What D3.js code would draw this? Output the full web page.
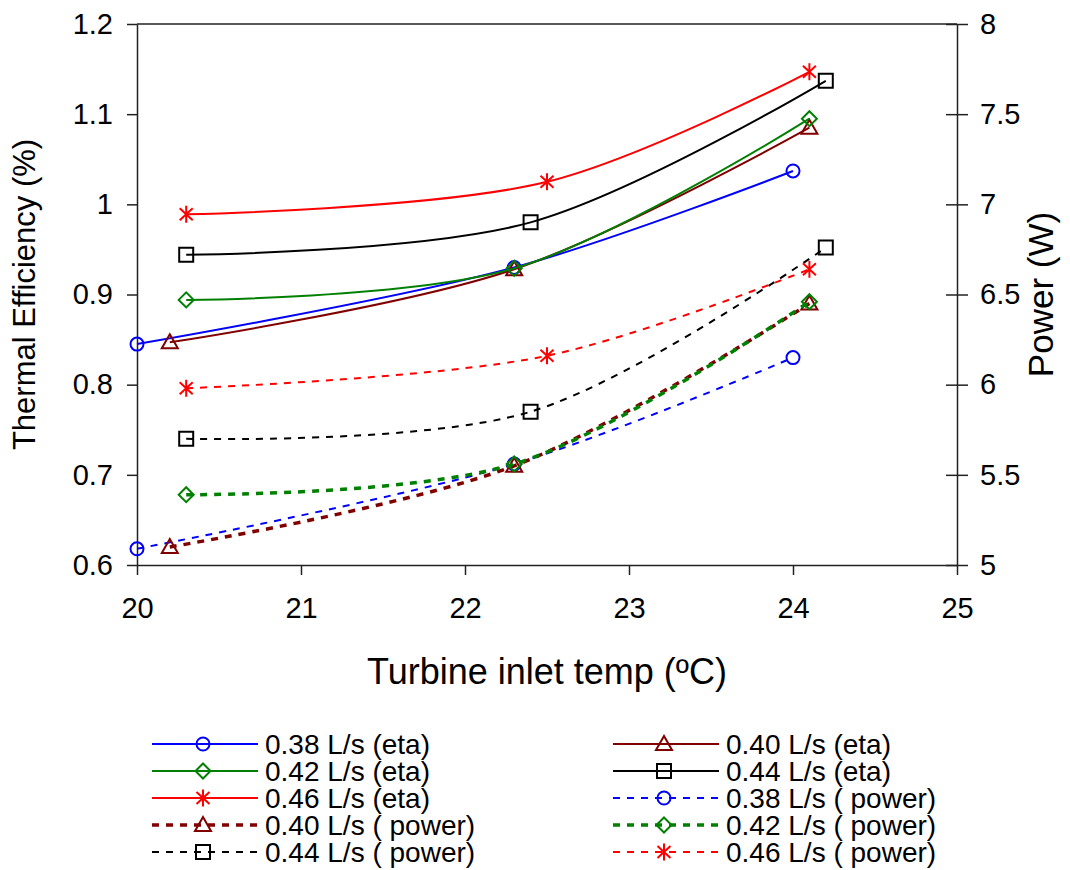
<!DOCTYPE html>
<html>
<head>
<meta charset="utf-8">
<script src="https://cdn.jsdelivr.net/npm/d3@7"></script>
<style>
body{margin:0;background:#fff;}
text{font-family:"Liberation Sans",Arial,sans-serif;fill:#000;}
</style>
</head>
<body>
<script>
// inlet temperatures per flow rate
var temp038 = [20.0, 22.3, 24.0];
var temp040 = [20.2, 22.3, 24.1];
var temp042 = [20.3, 22.3, 24.1];
var temp044 = [20.3, 22.4, 24.2];
var temp046 = [20.3, 22.5, 24.1];

// thermal efficiency (%)
var eta038 = [0.845, 0.930, 1.037];
var eta040 = [0.847, 0.928, 1.085];
var eta042 = [0.894, 0.929, 1.095];
var eta044 = [0.944, 0.980, 1.137];
var eta046 = [0.989, 1.025, 1.147];

// power (W)
var power038 = [5.09, 5.56, 6.15];
var power040 = [5.10, 5.55, 6.45];
var power042 = [5.39, 5.56, 6.46];
var power044 = [5.70, 5.85, 6.76];
var power046 = [5.98, 6.16, 6.64];

var xTicks = [20, 21, 22, 23, 24, 25];
var etaTicks = [0.6, 0.7, 0.8, 0.9, 1.0, 1.1, 1.2];
var powerTicks = [5, 5.5, 6, 6.5, 7, 7.5, 8];

var legendLabels = [
  "0.38 L/s (eta)", "0.40 L/s (eta)", "0.42 L/s (eta)", "0.44 L/s (eta)", "0.46 L/s (eta)",
  "0.38 L/s ( power)", "0.40 L/s ( power)", "0.42 L/s ( power)", "0.44 L/s ( power)", "0.46 L/s ( power)"
];

var width = 1070, height = 870,
    plotLeft = 137, plotRight = 957, plotTop = 24, plotBottom = 565;

var x = d3.scaleLinear().domain([20, 25]).range([plotLeft, plotRight]);
var yEta = d3.scaleLinear().domain([0.6, 1.2]).range([plotBottom, plotTop]);
var yPow = d3.scaleLinear().domain([5, 8]).range([plotBottom, plotTop]);

var colors = ["#0000ff", "#800000", "#008000", "#000000", "#ff0000"];
var markers = ["circle", "triangle", "diamond", "square", "star"];

var series = [
  {x: temp038, y: eta038, axis: yEta},
  {x: temp040, y: eta040, axis: yEta},
  {x: temp042, y: eta042, axis: yEta},
  {x: temp044, y: eta044, axis: yEta},
  {x: temp046, y: eta046, axis: yEta},
  {x: temp038, y: power038, axis: yPow},
  {x: temp040, y: power040, axis: yPow},
  {x: temp042, y: power042, axis: yPow},
  {x: temp044, y: power044, axis: yPow},
  {x: temp046, y: power046, axis: yPow}
];
series.forEach(function(s, i){
  s.label = legendLabels[i];
  s.color = colors[i % 5];
  s.marker = markers[i % 5];
  s.dashed = i >= 5;
  s.thick = (i == 6 || i == 7);
});

function markerPath(type){
  switch(type){
    case "circle": return "M6.5,0A6.5,6.5 0 1,1 -6.5,0A6.5,6.5 0 1,1 6.5,0Z";
    case "triangle": return "M0,-8L8,6L-8,6Z";
    case "diamond": return "M0,-7.5L7.5,0L0,7.5L-7.5,0Z";
    case "square": return "M-7,-7H7V7H-7Z";
    case "star": return "M0,-8.5V8.5M-6.5,-6L6.5,6M-6.5,6L6.5,-6";
  }
}

var fmt = function(d){ return String(+d.toFixed(1)); };

var svg = d3.select("body")
  .append("svg")
  .attr("width", width)
  .attr("height", height);

svg.append("rect").attr("width", width).attr("height", height).attr("fill", "#fff");

// Axes
svg.append("g")
  .attr("transform", "translate(0," + plotBottom + ")")
  .call(d3.axisBottom(x).tickValues(xTicks).tickSize(10).tickSizeOuter(0).tickPadding(22).tickFormat(fmt));

svg.append("g")
  .attr("transform", "translate(" + plotLeft + ",0)")
  .call(d3.axisLeft(yEta).tickValues(etaTicks).tickSize(10).tickSizeOuter(0).tickPadding(14).tickFormat(fmt));

var yAxisR = svg.append("g")
  .attr("transform", "translate(" + plotRight + ",0)")
  .call(d3.axisRight(yPow).tickValues(powerTicks).tickSize(11).tickSizeOuter(0).tickPadding(12).tickFormat(fmt));
yAxisR.selectAll(".tick line").attr("x1", -11).attr("x2", 11);

svg.selectAll(".domain, .tick line").attr("stroke", "#222").attr("stroke-width", 1.5);
svg.selectAll(".tick text")
  .attr("font-size", 29)
  .attr("font-family", "Liberation Sans, Arial, sans-serif")
  .attr("fill", "#000");

// top frame line
svg.append("line")
  .attr("x1", x(20)).attr("x2", x(25))
  .attr("y1", yEta(1.2)).attr("y2", yEta(1.2))
  .attr("stroke", "#222").attr("stroke-width", 1.5);

// Axis titles
svg.append("text")
  .attr("x", (plotLeft + plotRight) / 2).attr("y", 684)
  .attr("text-anchor", "middle")
  .attr("font-size", 36)
  .text("Turbine inlet temp (ºC)");

svg.append("text")
  .attr("transform", "translate(35," + (plotTop + plotBottom) / 2 + ") rotate(-90)")
  .attr("text-anchor", "middle")
  .attr("font-size", 31)
  .text("Thermal Efficiency (%)");

svg.append("text")
  .attr("transform", "translate(1053," + (plotTop + plotBottom) / 2 + ") rotate(-90)")
  .attr("text-anchor", "middle")
  .attr("font-size", 35)
  .text("Power (W)");

// Lines
var line = d3.line().curve(d3.curveCatmullRom.alpha(0.5));

function styleLine(sel, s){
  sel.attr("fill", "none")
    .attr("stroke", s.color)
    .attr("stroke-width", s.thick ? 3.5 : 2)
    .attr("stroke-dasharray", s.dashed ? "7,7" : null);
}

series.forEach(function(s){
  var pts = s.x.map(function(t, j){ return [x(t), s.axis(s.y[j])]; });
  svg.append("path")
    .attr("d", line(pts))
    .call(styleLine, s);

  svg.append("g").selectAll("path")
    .data(pts)
    .enter()
    .append("path")
    .attr("d", markerPath(s.marker))
    .attr("transform", function(p){ return "translate(" + p[0] + "," + p[1] + ")"; })
    .attr("fill", "none")
    .attr("stroke", s.color)
    .attr("stroke-width", 2);
});

// Legend
var legend = svg.append("g");
series.forEach(function(s, i){
  var col = i % 2, row = Math.floor(i / 2);
  var x0 = col ? 613 : 152, cy = 744 + row * 27;
  var g = legend.append("g").attr("transform", "translate(" + x0 + "," + cy + ")");
  g.append("line")
    .attr("x1", 0).attr("x2", 106)
    .call(styleLine, s);
  g.append("path")
    .attr("d", markerPath(s.marker))
    .attr("transform", "translate(51,0)")
    .attr("fill", "none")
    .attr("stroke", s.color)
    .attr("stroke-width", 2);
  g.append("text")
    .attr("x", 113)
    .attr("y", 0)
    .attr("dy", "0.36em")
    .attr("font-size", 28)
    .style("white-space", "pre")
    .text(s.label);
});
</script>
</body>
</html>
